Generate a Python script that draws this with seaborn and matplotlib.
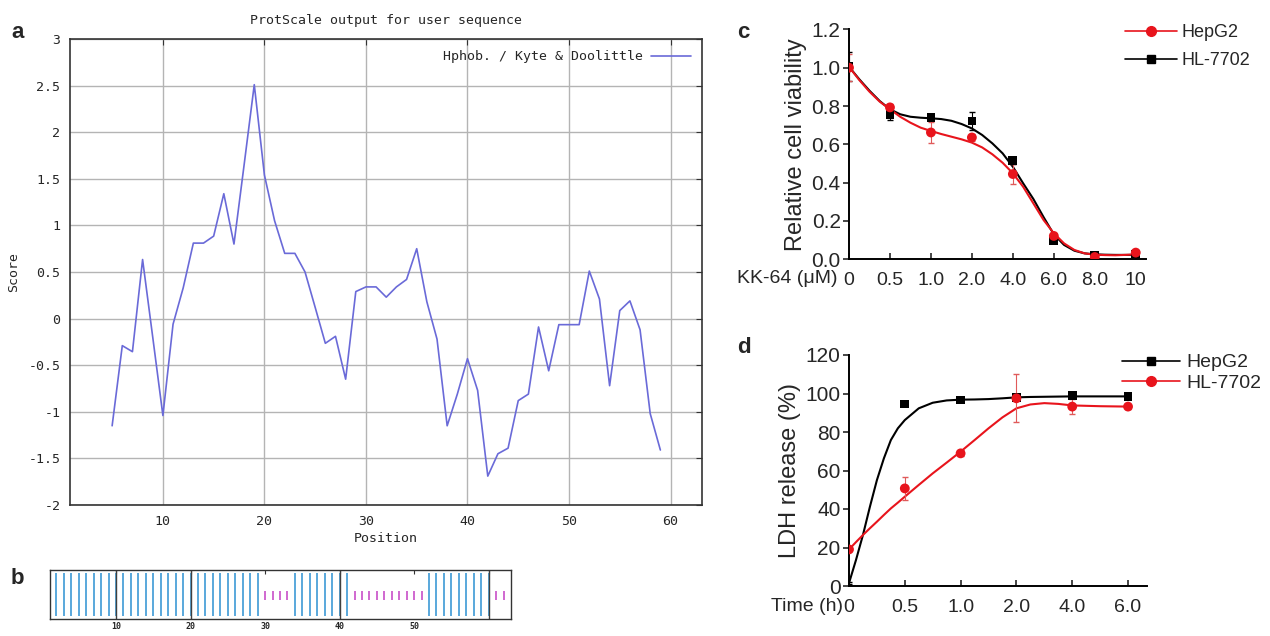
import matplotlib
matplotlib.use("Agg")
import matplotlib.pyplot as plt
from matplotlib.lines import Line2D
import seaborn as sns

# a: hydrophobicity profile (Kyte & Doolittle)
positions = list(range(5, 60))
scores = [-1.15, -0.29, -0.355, 0.634, -0.2, -1.04, -0.06, 0.33, 0.81, 0.81,
          0.885, 1.34, 0.80, 1.65, 2.51, 1.54, 1.05, 0.70, 0.70, 0.50,
          0.12, -0.265, -0.19, -0.65, 0.29, 0.34, 0.34, 0.23, 0.34, 0.42,
          0.75, 0.18, -0.22, -1.15, -0.81, -0.43, -0.77, -1.69, -1.45, -1.39,
          -0.88, -0.81, -0.09, -0.56, -0.065, -0.065, -0.065, 0.51, 0.21, -0.72,
          0.086, 0.19, -0.12, -1.02, -1.41]

# b: secondary structure per residue (h = helix, c = coil)
structure = "h" * 29 + "c" * 4 + "h" * 8 + "c" * 10 + "h" * 9 + "c" * 2

# c: cell viability vs KK-64 dose
dose_labels = ["0", "0.5", "1.0", "2.0", "4.0", "6.0", "8.0", "10"]
hepg2_via = [1.00, 0.793, 0.662, 0.636, 0.445, 0.122, 0.012, 0.035]
hepg2_via_err = [0.07, 0.02, 0.057, 0.02, 0.05, 0.01, 0.005, 0.005]
hl_via = [1.005, 0.757, 0.741, 0.722, 0.515, 0.10, 0.02, 0.028]
hl_via_err = [0.075, 0.03, 0.01, 0.048, 0.02, 0.01, 0.005, 0.005]
via_fit_x = [0, 0.25, 0.5, 0.75, 1, 1.25, 1.5, 1.75, 2, 2.25, 2.5, 2.75, 3, 3.25,
             3.5, 3.75, 4, 4.25, 4.5, 4.75, 5, 5.25, 5.5, 5.75, 6, 6.25, 6.5, 6.75, 7]
hepg2_via_fit = [1.005, 0.936, 0.875, 0.823, 0.783, 0.744, 0.713, 0.687, 0.67, 0.654,
                 0.64, 0.626, 0.609, 0.584, 0.548, 0.504, 0.449, 0.379, 0.292, 0.205,
                 0.136, 0.083, 0.049, 0.031, 0.024, 0.022, 0.021, 0.023, 0.026]
hl_via_fit = [1.005, 0.94, 0.88, 0.826, 0.783, 0.757, 0.744, 0.739, 0.736, 0.732,
              0.723, 0.706, 0.683, 0.649, 0.605, 0.553, 0.483, 0.397, 0.315, 0.22,
              0.13, 0.075, 0.045, 0.031, 0.026, 0.024, 0.023, 0.023, 0.023]

# d: LDH release vs time
time_labels = ["0", "0.5", "1.0", "2.0", "4.0", "6.0"]
hepg2_ldh = [1.5, 94.5, 96.6, 98.0, 98.9, 98.5]
hepg2_ldh_err = [0.5, 1, 1, 1, 1, 1]
hl_ldh = [19.0, 50.7, 68.9, 97.5, 93.2, 93.2]
hl_ldh_err = [1, 6, 1.5, 12.4, 4, 1]
ldh_fit_x = [0, 0.125, 0.25, 0.375, 0.5, 0.625, 0.75, 0.875, 1, 1.25, 1.5, 1.75,
             2, 2.25, 2.5, 2.75, 3, 3.25, 3.5, 3.75, 4, 4.5, 5]
hepg2_ldh_fit = [1.5, 13.5, 26.5, 41.2, 55, 66.3, 75.8, 81.9, 86.2, 92.3, 95.2, 96.4,
                 96.8, 96.9, 97.1, 97.5, 98.0, 98.2, 98.3, 98.4, 98.5, 98.5, 98.5]
hl_ldh_fit = [19.0, 22.8, 26.5, 30, 33.4, 36.9, 40.3, 43.3, 46.4, 52.5, 58.5, 64.1,
              69.8, 75.8, 81.9, 87.6, 92.3, 94.3, 95.0, 94.6, 93.8, 93.4, 93.2]

sns.set_style("white")
plt.rcParams["axes.unicode_minus"] = False
plt.rcParams["font.family"] = ["Liberation Sans", "DejaVu Sans"]

W, H = 1270, 636
fig = plt.figure(figsize=(W / 100, H / 100), dpi=100)


def box(l, t, r, b):
    return fig.add_axes([l / W, 1 - b / H, (r - l) / W, (b - t) / H])


mono = "DejaVu Sans Mono"
RED = "#e8141c"

# ---- panel a
ax = box(70, 39, 702, 505)
sns.lineplot(x=positions, y=scores, ax=ax, color="#6a6ad8", lw=1.2,
             label="Hphob. / Kyte & Doolittle")
ax.set_xlim(0.85, 63.1)
ax.set_ylim(-2, 3)
ax.set_xticks(range(10, 61, 10))
ax.set_yticks([i * 0.5 for i in range(-4, 7)])
ax.set_yticklabels(["%g" % (i * 0.5) for i in range(-4, 7)])
ax.grid(True, color="#b4b4b4", lw=1)
ax.tick_params(direction="in", length=4, top=True, right=True, labelsize=9.5,
               color="#333333", pad=7)
for lab in ax.get_xticklabels() + ax.get_yticklabels():
    lab.set_fontfamily(mono)
for s in ax.spines.values():
    s.set_color("#333333")
    s.set_linewidth(1.2)
ax.set_title("ProtScale output for user sequence", fontfamily=mono, fontsize=9.5, pad=11)
ax.set_xlabel("Position", fontfamily=mono, fontsize=9.5, labelpad=3)
ax.set_ylabel("Score", fontfamily=mono, fontsize=9.5, labelpad=6)
ax.legend(loc="upper right", frameon=False, markerfirst=False, handlelength=3,
          prop={"family": mono, "size": 9.5}, borderaxespad=0.45, handletextpad=0.6)

# ---- panel b
axb = box(50, 570, 511, 619)
res = list(range(1, len(structure) + 1))
helix = [p for p, s in zip(res, structure) if s == "h"]
coil = [p for p, s in zip(res, structure) if s == "c"]
axb.vlines(helix, 0.06, 0.94, color="#3d9ad6", lw=1.2)
axb.vlines(coil, 0.39, 0.57, color="#c84fc8", lw=1.2)
axb.vlines([10, 20, 40, 60], 0, 1, color="#404040", lw=1)
axb.set_xlim(1.14, 63)
axb.set_ylim(0, 1)
axb.set_yticks([])
axb.set_xticks(range(10, 61, 10))
axb.set_xticklabels(["10", "20", "30", "40", "50", ""])
axb.tick_params(axis="x", direction="in", length=3, top=True, labelsize=6, pad=2,
                color="#333333")
for lab in axb.get_xticklabels():
    lab.set_fontfamily(mono)
    lab.set_fontweight("bold")
for s in axb.spines.values():
    s.set_color("#333333")
    s.set_linewidth(1)


def style_axes(a):
    sns.despine(ax=a)
    for s in ("left", "bottom"):
        a.spines[s].set_color("black")
        a.spines[s].set_linewidth(1.4)
    a.tick_params(axis="y", direction="out", length=4, width=1.2, labelsize=15,
                  left=True, pad=2)
    a.tick_params(axis="x", direction="in", length=4, width=1.2, labelsize=14,
                  bottom=True, pad=9)


# ---- panel c
axc = box(849, 29.4, 1146, 259.3)
sns.lineplot(x=via_fit_x, y=hl_via_fit, ax=axc, color="black", lw=1.5)
sns.lineplot(x=via_fit_x, y=hepg2_via_fit, ax=axc, color=RED, lw=1.5)
xs = list(range(len(dose_labels)))
axc.errorbar(xs, hl_via, yerr=hl_via_err, fmt="none", ecolor="black", elinewidth=0.8,
             capsize=2.5)
axc.errorbar(xs, hepg2_via, yerr=hepg2_via_err, fmt="none", ecolor="#e05a5a",
             elinewidth=0.8, capsize=2.5)
sns.scatterplot(x=xs, y=hl_via, ax=axc, marker="s", color="black", s=40,
                edgecolor="none", zorder=5)
sns.scatterplot(x=xs, y=hepg2_via, ax=axc, marker="o", color=RED, s=50,
                edgecolor="none", zorder=5)
axc.set_xlim(0, 7.25)
axc.set_ylim(0, 1.2)
axc.set_yticks([0, 0.2, 0.4, 0.6, 0.8, 1.0, 1.2])
axc.set_yticklabels(["0.0", "0.2", "0.4", "0.6", "0.8", "1.0", "1.2"])
axc.set_xticks(xs)
axc.set_xticklabels(dose_labels)
style_axes(axc)
axc.set_ylabel("Relative cell viability", fontsize=17, labelpad=3)
axc.text(-0.04, -0.085, "KK-64 (\u03bcM)", transform=axc.transAxes, ha="right",
         va="center", fontsize=14)
axc.legend(handles=[Line2D([], [], color=RED, marker="o", ms=7, lw=1.2, label="HepG2"),
                    Line2D([], [], color="black", marker="s", ms=6, lw=1.2, label="HL-7702")],
           loc="upper left", bbox_to_anchor=(1116 / W, 1 - 15 / H),
           bbox_transform=fig.transFigure, frameon=False, fontsize=13,
           handlelength=2.9, handletextpad=0.25, labelspacing=0.6, borderpad=0)

# ---- panel d
axd = box(849, 355, 1147, 586)
sns.lineplot(x=ldh_fit_x, y=hepg2_ldh_fit, ax=axd, color="black", lw=1.5)
sns.lineplot(x=ldh_fit_x, y=hl_ldh_fit, ax=axd, color=RED, lw=1.5)
ts = list(range(len(time_labels)))
axd.errorbar(ts, hepg2_ldh, yerr=hepg2_ldh_err, fmt="none", ecolor="black",
             elinewidth=0.8, capsize=2.5)
axd.errorbar(ts, hl_ldh, yerr=hl_ldh_err, fmt="none", ecolor="#e05a5a",
             elinewidth=0.8, capsize=2.5)
sns.scatterplot(x=ts[1:], y=hepg2_ldh[1:], ax=axd, marker="s", color="black", s=40,
                edgecolor="none", zorder=5)
sns.scatterplot(x=ts, y=hl_ldh, ax=axd, marker="o", color=RED, s=50,
                edgecolor="none", zorder=5)
axd.set_xlim(0, 5.34)
axd.set_ylim(0, 120)
axd.set_yticks(range(0, 121, 20))
axd.set_xticks(ts)
axd.set_xticklabels(time_labels)
style_axes(axd)
axd.set_ylabel("LDH release (%)", fontsize=17, labelpad=3)
axd.text(-0.02, -0.09, "Time (h)", transform=axd.transAxes, ha="right",
         va="center", fontsize=14)
axd.legend(handles=[Line2D([], [], color="black", marker="s", ms=6, lw=1.2, label="HepG2"),
                    Line2D([], [], color=RED, marker="o", ms=7, lw=1.2, label="HL-7702")],
           loc="upper left", bbox_to_anchor=(1112 / W, 1 - 344 / H),
           bbox_transform=fig.transFigure, frameon=False, fontsize=14,
           handlelength=3.0, handletextpad=0.3, labelspacing=0.15, borderpad=0)

# panel letters
for letter, x, y in [("a", 11, 33), ("b", 11, 578), ("c", 737, 33), ("d", 737, 347)]:
    fig.text(x / W, 1 - y / H, letter, fontsize=16, fontweight="bold", va="center")

fig.savefig("out.png", dpi=100)
